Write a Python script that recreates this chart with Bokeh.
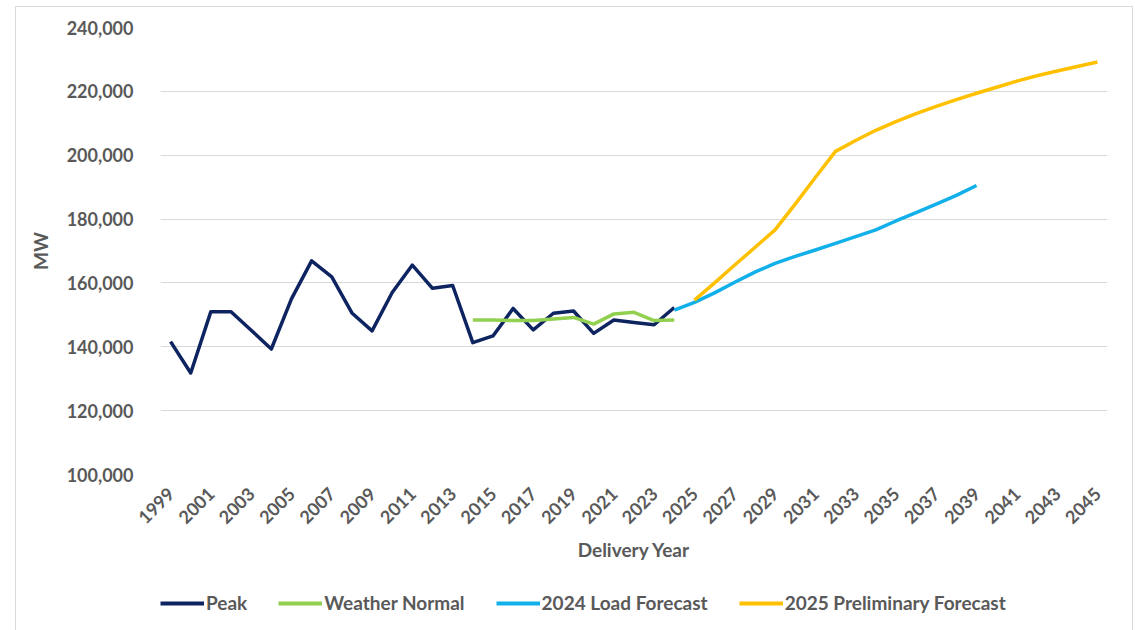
from bokeh.plotting import figure
from bokeh.models import Legend, LegendItem, NumeralTickFormatter, FixedTicker
from bokeh.layouts import column
from bokeh.embed import file_html
from bokeh.resources import INLINE
import math

# ---- data ----
peak_years = list(range(1999, 2025))
peak = [141600, 131800, 151000, 151000, 145200, 139300, 155000, 166900, 161900, 150600,
        145000, 157000, 165600, 158300, 159200, 141300, 143400, 152000, 145300, 150500,
        151200, 144200, 148400, 147600, 146900, 152300]

wn_years = list(range(2014, 2025))
weather_normal = [148400, 148400, 148200, 148200, 148700, 149200, 147100, 150300, 150800, 148200, 148400]

lf24_years = list(range(2024, 2040))
load_2024 = [151500, 153900, 156900, 160200, 163400, 166100, 168300, 170300, 172400, 174500,
             176600, 179400, 182000, 184700, 187400, 190500]

pf25_years = list(range(2025, 2046))
prelim_2025 = [154600, 160000, 165600, 171100, 176600, 184700, 193000, 201200, 204600, 207800,
               210500, 213000, 215300, 217400, 219400, 221300, 223200, 224900, 226400, 227800, 229200]

series_names = ["Peak", "Weather Normal", "2024 Load Forecast", "2025 Preliminary Forecast"]
series_colors = ["#0E2461", "#92D050", "#12B0EA", "#FFC000"]

x_ticks = list(range(1999, 2046, 2))
y_ticks = list(range(100000, 240001, 20000))

FONT = "Lato"
TXT = "#595959"

p = figure(width=1135, height=580, output_backend="svg", toolbar_location=None,
           x_range=(1998.5, 2045.5), y_range=(100000, 240000),
           min_border_left=160, min_border_right=28, min_border_top=27, min_border_bottom=106)
p.outline_line_color = None
p.background_fill_color = "white"
p.border_fill_alpha = 0

xs = [peak_years, wn_years, lf24_years, pf25_years]
ys = [peak, weather_normal, load_2024, prelim_2025]
for xv, yv, c in zip(xs, ys, series_colors):
    p.line(xv, yv, line_color=c, line_width=3.5, line_join="round")

# y axis
p.yaxis.ticker = FixedTicker(ticks=y_ticks)
p.yaxis.formatter = NumeralTickFormatter(format="0,0")
p.yaxis.axis_line_color = None
p.yaxis.major_tick_line_color = None
p.yaxis.minor_tick_line_color = None
p.yaxis.major_label_standoff = 21
p.yaxis.axis_label = "MW"
p.yaxis.axis_label_standoff = 12

# x axis
p.xaxis.ticker = FixedTicker(ticks=x_ticks)
p.xaxis.axis_line_color = None
p.xaxis.major_tick_line_color = None
p.xaxis.minor_tick_line_color = None
p.xaxis.major_label_orientation = math.pi / 4
p.xaxis.major_label_standoff = 10
p.xaxis.axis_label = "Delivery Year"
p.xaxis.axis_label_standoff = 5

for ax in (p.xaxis, p.yaxis):
    ax.major_label_text_font = FONT
    ax.major_label_text_font_style = "bold"
    ax.major_label_text_font_size = "18px"
    ax.major_label_text_color = TXT
    ax.axis_label_text_font = FONT
    ax.axis_label_text_font_style = "bold"
    ax.axis_label_text_font_size = "19px"
    ax.axis_label_text_color = TXT

p.xgrid.grid_line_color = None
p.ygrid.grid_line_color = "#d9d9d9"
p.ygrid.grid_line_width = 1.2
p.ygrid.ticker = FixedTicker(ticks=y_ticks)

# ---- legend strip (its frame is aligned with the chart's frame) ----
lg = figure(width=1135, height=50, output_backend="svg", toolbar_location=None,
            x_axis_type=None, y_axis_type=None, x_range=(0, 1), y_range=(0, 1),
            min_border_left=160, min_border_right=28, min_border_top=0, min_border_bottom=0)
lg.outline_line_color = None
lg.background_fill_alpha = 0
lg.border_fill_alpha = 0
lg.xgrid.visible = False
lg.ygrid.visible = False
items = []
for name, c in zip(series_names, series_colors):
    r = lg.line([5, 6], [5, 6], line_color=c, line_width=4)  # off-range: legend swatch only
    items.append(LegendItem(label=name, renderers=[r]))
legend = Legend(items=items, orientation="horizontal", location=(0, 16))
legend.border_line_color = None
legend.background_fill_alpha = 0
legend.label_text_font = FONT
legend.label_text_font_style = "bold"
legend.label_text_font_size = "19px"
legend.label_text_color = TXT
legend.glyph_width = 44
legend.glyph_height = 20
legend.label_standoff = 2
legend.spacing = 31
legend.padding = 0
legend.margin = 0
lg.add_layout(legend, "center")

G = "linear-gradient(#d9d9d9,#d9d9d9)"
layout = column(p, lg, spacing=0, styles={
    "background": f"{G} 15px 6px/1px 630px no-repeat, {G} 15px 6px/1118px 1px no-repeat, "
                  f"{G} 1132px 6px/1px 630px no-repeat, white"})

open("out.html", "w").write(file_html(layout, INLINE))
